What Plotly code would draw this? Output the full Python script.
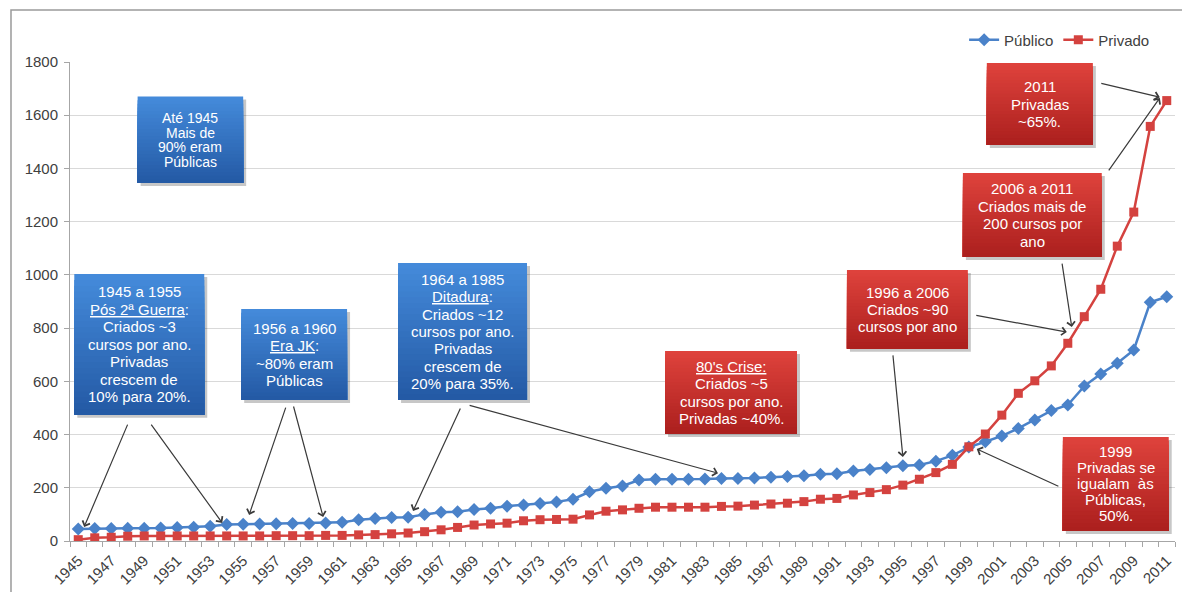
import plotly.graph_objects as go

# ---- data -------------------------------------------------------------
anos = list(range(1945, 2012))

publico = [45, 47, 47, 48, 48, 49, 51, 52, 55, 62,
           63, 64, 65, 66, 66, 68, 70, 80, 85, 88,
           89, 100, 108, 110, 118, 123, 131, 135, 141, 147,
           157, 185, 198, 207, 229, 232, 232, 232, 233, 235,
           235, 237, 240, 242, 245, 251, 253, 263, 269, 275,
           283, 286, 300, 322, 353, 373, 395, 423, 455, 490,
           511, 582, 628, 668, 718, 897, 918]

privado = [5, 12, 14, 18, 19, 19, 19, 19, 19, 19,
           19, 19, 20, 20, 20, 21, 21, 23, 24, 27,
           30, 35, 42, 51, 60, 64, 67, 76, 80, 81,
           82, 98, 112, 117, 123, 127, 127, 127, 127, 130,
           131, 135, 139, 142, 148, 157, 160, 173, 182, 193,
           210, 232, 257, 288, 354, 402, 473, 555, 602, 658,
           743, 843, 946, 1108, 1236, 1558, 1655]

rotulos_x = [str(a) for a in range(1945, 2012, 2)]
ticks_y = [0, 200, 400, 600, 800, 1000, 1200, 1400, 1600, 1800]

# ---- callout boxes: (x0, x1, y0, y1, colour scheme, font size, line spacing, lines) ----
caixas = [
    (1948.6, 1955.0, 1345, 1670, "azul", 14, 14.6,
     ["Até 1945", "Mais de", "90% eram", "Públicas"]),
    (1944.76, 1952.64, 474, 1003, "azul", 15, 17.5,
     ["1945 a 1955", "<u>Pós 2ª Guerra</u>:", "Criados ~3", "cursos por ano.",
      "Privadas", "crescem de", "10% para 20%."]),
    (1954.88, 1961.30, 530, 872, "azul", 15, 17.3,
     ["1956 a 1960", "<u>Era JK</u>:", "~80% eram", "Públicas"]),
    (1964.39, 1972.21, 530, 1045, "azul", 15, 17.3,
     ["1964 a 1985", "<u>Ditadura</u>:", "Criados ~12", "cursos por ano.",
      "Privadas", "crescem de", "20% para 35%."]),
    (1980.58, 1988.58, 402, 714, "vermelho", 15, 17.3,
     ["<u>80's Crise:</u>", "Criados ~5", "cursos por ano.", "Privadas ~40%."]),
    (1991.61, 1998.94, 722, 1018, "vermelho", 15, 17.0,
     ["1996 a 2006", "Criados ~90", "cursos por ano"]),
    (1998.64, 2007.06, 1067, 1383, "vermelho", 15, 17.8,
     ["2006 a 2011", "Criados mais de", "200 cursos por", "ano"]),
    (2000.09, 2006.52, 1488, 1796, "vermelho", 15, 17.5,
     ["2011", "Privadas", "~65%."]),
    (2004.70, 2011.12, 38, 391, "vermelho", 15, 16.0,
     ["1999", "Privadas se", "igualam  às", "Públicas,", "50%."]),
]

# ---- arrows: (head x, head y, tail x, tail y) -----------------------------
setas = [
    (1945.36, 53, 1948.03, 443),
    (1953.73, 68, 1949.36, 443),
    (1955.36, 98, 1957.61, 507),
    (1959.85, 90, 1958.03, 511),
    (1965.30, 113, 1968.21, 504),
    (1983.79, 255, 1968.64, 511),
    (1995.00, 316, 1994.39, 703),
    (2004.94, 785, 1999.36, 849),
    (2005.24, 804, 2004.64, 1048),
    (2010.58, 1668, 2006.94, 1721),
    (2010.58, 1665, 2007.42, 1387),
    (1999.48, 346, 2004.52, 203),
]

GRADIENTES = {
    "azul": ((68, 138, 218), (36, 90, 165)),
    "vermelho": ((222, 66, 60), (172, 32, 30)),
}

FONTE = "Liberation Sans, Arial, sans-serif"

fig = go.Figure()

fig.add_trace(go.Scatter(
    x=anos, y=publico, name="Público", mode="lines+markers",
    line=dict(color="#4a82c9", width=2.5),
    marker=dict(symbol="diamond", size=10, color="#4a82c9"),
))
fig.add_trace(go.Scatter(
    x=anos, y=privado, name="Privado", mode="lines+markers",
    line=dict(color="#d4423f", width=2.5),
    marker=dict(symbol="square", size=9, color="#d4423f"),
))

shapes = []
annotations = []

# outer chart frame
shapes.append(dict(type="rect", xref="paper", yref="paper",
                   x0=-0.0534, x1=1.2, y0=-0.5, y1=1.1086,
                   line=dict(color="#9a9a9a", width=1.5), layer="below"))

px_x = 1105 / 67.0      # pixels per year
px_y = 479 / 1800.0     # pixels per unit

for x0, x1, y0, y1, esquema, fs, passo, linhas in caixas:
    # drop shadow
    sx, sy = 3 / px_x, 3 / px_y
    shapes.append(dict(type="rect", xref="x", yref="y",
                       x0=x0 + sx, x1=x1 + sx, y0=y0 - sy, y1=y1 - sy,
                       fillcolor="rgba(0,0,0,0.22)", line=dict(width=0),
                       layer="above"))
    # vertical gradient: each band runs to the box bottom so no seams show
    topo, base = GRADIENTES[esquema]
    n = 24
    for i in range(n):
        t = i / (n - 1)
        c = tuple(int(round(topo[k] + (base[k] - topo[k]) * t)) for k in range(3))
        ya = y1 - (y1 - y0) * i / n
        shapes.append(dict(type="rect", xref="x", yref="y",
                           x0=x0, x1=x1, y0=y0, y1=ya,
                           fillcolor="rgb(%d,%d,%d)" % c,
                           line=dict(width=0), layer="above"))
    cx = (x0 + x1) / 2
    cy = (y0 + y1) / 2
    m = len(linhas)
    for k, txt in enumerate(linhas):
        annotations.append(dict(
            x=cx, y=cy, xref="x", yref="y", text=txt, showarrow=False,
            xanchor="center", yanchor="middle",
            yshift=-(k - (m - 1) / 2) * passo,
            font=dict(family=FONTE, size=fs, color="white"),
        ))

for hx, hy, tx, ty in setas:
    annotations.append(dict(
        x=hx, y=hy, ax=tx, ay=ty, xref="x", yref="y", axref="x", ayref="y",
        text="", showarrow=True, arrowhead=4, arrowsize=1.3, arrowwidth=1.2,
        arrowcolor="#3a3a3a", standoff=0,
    ))

fig.update_layout(
    width=1182, height=592,
    margin=dict(l=70, r=7, t=62, b=51),
    paper_bgcolor="white", plot_bgcolor="white",
    font=dict(family=FONTE, size=15, color="#404040"),
    showlegend=True,
    legend=dict(orientation="h", x=0.982, xanchor="right", y=1.046,
                yanchor="middle", font=dict(size=15, color="#404040"),
                bgcolor="rgba(0,0,0,0)", itemwidth=30),
    shapes=shapes,
    annotations=annotations,
    xaxis=dict(
        range=[1944.5, 2011.5], tickmode="array",
        tickvals=list(range(1945, 2012, 2)), ticktext=rotulos_x,
        tickangle=-45, showgrid=False, zeroline=False, automargin=False,
        showline=True, linecolor="#a6a6a6", linewidth=1,
        ticks="outside", ticklen=4, tickcolor="rgba(0,0,0,0)",
        tickfont=dict(size=15, color="#404040"),
        minor=dict(tickmode="array",
                   tickvals=[a - 0.5 for a in anos] + [2011.5],
                   ticks="outside", ticklen=5, tickcolor="#a6a6a6",
                   showgrid=False),
    ),
    yaxis=dict(
        range=[0, 1800], tickmode="array", tickvals=ticks_y,
        showgrid=True, gridcolor="#d9d9d9", gridwidth=1, zeroline=False,
        showline=True, linecolor="#a6a6a6", linewidth=1, automargin=False,
        ticks="outside", ticklen=5, tickcolor="#a6a6a6",
        ticklabelstandoff=3,
        tickfont=dict(size=15, color="#404040"),
    ),
)

fig.write_html("out.html")
